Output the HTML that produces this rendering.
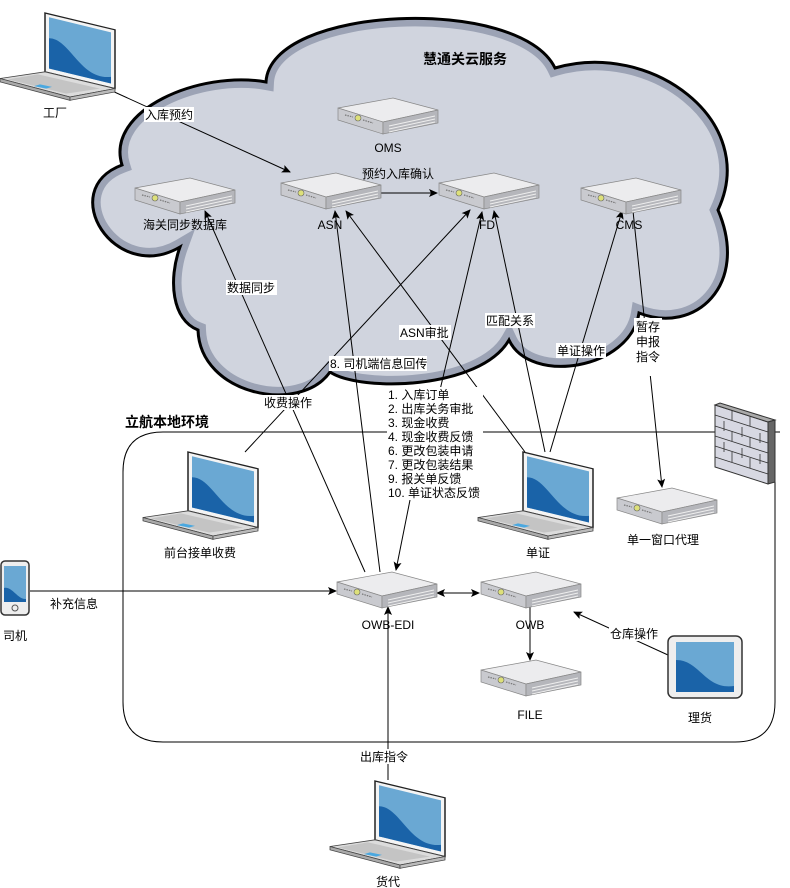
<!DOCTYPE html>
<html><head><meta charset="utf-8"><style>
html,body{margin:0;padding:0;background:#fff}
svg{display:block}
text{font-family:"Liberation Sans","Noto Sans CJK SC",sans-serif;font-size:12px;fill:#000}
.l{stroke:#000;stroke-width:1;fill:none}
.bg{fill:#fff}
</style></head><body>
<svg width="790" height="888" viewBox="0 0 790 888" xmlns="http://www.w3.org/2000/svg">
<defs>
<marker id="a" markerWidth="10" markerHeight="10" refX="8" refY="4" orient="auto" markerUnits="userSpaceOnUse"><path d="M0,0 L9,4 L0,8 L2,4 Z" fill="#000"/></marker>
<marker id="s" markerWidth="10" markerHeight="10" refX="1" refY="4" orient="auto" markerUnits="userSpaceOnUse"><path d="M9,0 L0,4 L9,8 L7,4 Z" fill="#000"/></marker>
<clipPath id="cc"><path id="cp" d="M180,247 C115,285 55,190 122,165 C105,110 200,70 266,82 C270,5 520,-5 555,68 C650,40 760,120 718,210 C750,285 695,335 639,313 C630,370 530,385 509,340 C480,390 360,392 330,372 C300,415 200,395 198,330 C172,320 168,280 180,247 Z"/></clipPath>
<g id="srv">
<polygon points="1,10 56,0 101,12 46,24" fill="#ececee" stroke="#888" stroke-width="0.7"/>
<polygon points="1,10 46,24 46,36 1,22" fill="#c9cacf" stroke="#888" stroke-width="0.7"/>
<polygon points="46,24 101,12 101,25 46,36" fill="#b5b6bb" stroke="#888" stroke-width="0.7"/>
<circle cx="21" cy="20" r="3" fill="#dde07a" stroke="#666" stroke-width="0.6"/>
<line x1="8" y1="17" x2="16" y2="19" stroke="#777" stroke-width="1.2" stroke-dasharray="1.5,1"/>
<line x1="26" y1="22" x2="36" y2="25" stroke="#777" stroke-width="1.2" stroke-dasharray="1.5,1"/>
<line x1="52" y1="28" x2="98" y2="18" stroke="#eee" stroke-width="1"/>
<line x1="52" y1="31" x2="98" y2="21" stroke="#eee" stroke-width="1"/>
<line x1="52" y1="34" x2="98" y2="24" stroke="#eee" stroke-width="1"/>
</g>
<g id="lap">
<g transform="scale(1,0.84)">
<polygon points="45,0 115,20 115,90 45,70" fill="#f4f4f4" stroke="#222" stroke-width="1.5"/>
<polygon points="49,5 111,23 111,84 49,66" fill="#6aa8d3"/>
<path d="M49,30 C70,30 80,80 111,76 L111,84 L49,66 Z" fill="#1a63a8"/>
<polygon points="45,70 115,90 70,100 0,78" fill="#dcdcdc" stroke="#444" stroke-width="1"/>
<polygon points="0,78 70,100 70,104 0,82" fill="#aaa" stroke="#444" stroke-width="0.8"/>
<polygon points="70,100 115,90 115,94 70,104" fill="#bbb" stroke="#444" stroke-width="0.8"/>
<polygon points="38,73 100,90 66,96 8,79" fill="#c4c4c4"/>
<polygon points="40,85 52,88 46,90 34,87" fill="#4aa8e0"/>
</g>
</g>
</defs>

<!-- cloud -->
<use href="#cp" fill="#d0d4de"/>
<g clip-path="url(#cc)"><use href="#cp" fill="none" stroke="#9ca3b5" stroke-width="16"/></g>
<use href="#cp" fill="none" stroke="#000" stroke-width="3"/>
<text x="465" y="64" text-anchor="middle" style="font-size:14px;font-weight:bold">慧通关云服务</text>

<!-- local box -->
<path d="M780,432 L163,432 Q123,432 123,472 L123,702 Q123,742 163,742 L735,742 Q775,742 775,702 L775,480" class="l"/>
<text x="125" y="427" style="font-size:14px;font-weight:bold">立航本地环境</text>

<!-- firewall -->
<g stroke="#333" stroke-width="1">
<polygon points="715,405 768,422 768,484 715,467" fill="#d7d8e2"/>
<polygon points="715,405 720,403 775,420 768,422" fill="#aaa"/>
<polygon points="768,422 775,420 775,482 768,484" fill="#666"/>
<path d="M715,415 L768,432 M715,426 L768,443 M715,436 L768,453 M715,446 L768,463 M715,457 L768,474 M732,410 L732,420 M750,416 L750,426 M724,421 L724,431 M742,427 L742,437 M760,433 L760,443 M732,431 L732,441 M750,437 L750,447 M724,442 L724,452 M742,448 L742,458 M760,454 L760,464 M732,452 L732,462 M750,458 L750,468" fill="none" stroke-width="0.8"/>
</g>

<!-- connectors -->
<line x1="110" y1="90" x2="290" y2="172" class="l" marker-end="url(#a)"/>
<line x1="381" y1="193" x2="437" y2="193" class="l" stroke="#333" stroke-width="1.5" marker-end="url(#a)"/>
<line x1="245" y1="452" x2="470" y2="210" class="l" marker-end="url(#a)"/>
<line x1="365" y1="572" x2="205" y2="211" class="l" marker-end="url(#a)"/>
<line x1="380" y1="572" x2="335" y2="211" class="l" marker-end="url(#a)"/>
<line x1="525" y1="452" x2="346" y2="211" class="l" marker-end="url(#a)"/>
<line x1="440" y1="390" x2="482" y2="212" class="l" marker-end="url(#a)"/>
<line x1="410" y1="500" x2="396" y2="570" class="l" marker-end="url(#a)"/>
<line x1="545" y1="452" x2="494" y2="211" class="l" marker-end="url(#a)"/>
<line x1="550" y1="452" x2="622" y2="211" class="l" marker-end="url(#a)"/>
<line x1="633" y1="211" x2="662" y2="487" class="l" marker-end="url(#a)"/>
<line x1="30" y1="591" x2="336" y2="591" class="l" stroke="#555" stroke-width="1.5" marker-end="url(#a)"/>
<line x1="437" y1="593" x2="479" y2="593" class="l" marker-end="url(#a)" marker-start="url(#s)"/>
<line x1="530" y1="606" x2="530" y2="660" class="l" stroke="#333" stroke-width="1.5" marker-end="url(#a)"/>
<line x1="668" y1="655" x2="574" y2="612" class="l" marker-end="url(#a)"/>
<line x1="388" y1="780" x2="388" y2="607" class="l" stroke="#555" stroke-width="1.5" marker-end="url(#a)"/>

<!-- servers -->
<use href="#srv" x="337" y="98"/>
<use href="#srv" x="134" y="178"/>
<use href="#srv" x="280" y="173"/>
<use href="#srv" x="438" y="173"/>
<use href="#srv" x="580" y="178"/>
<use href="#srv" x="616" y="488"/>
<use href="#srv" x="336" y="572"/>
<use href="#srv" x="480" y="572"/>
<use href="#srv" x="480" y="660"/>

<!-- laptops -->
<use href="#lap" x="0" y="13"/>
<use href="#lap" x="143" y="452"/>
<use href="#lap" x="478" y="452"/>
<use href="#lap" x="330" y="781"/>

<!-- phone -->
<g>
<rect x="1" y="561" width="28" height="54" rx="4" fill="#eee" stroke="#333" stroke-width="1.5"/>
<rect x="4" y="566" width="22" height="36" fill="#6aa8d3"/>
<path d="M4,588 C12,586 18,600 26,599 L26,602 L4,602Z" fill="#1a63a8"/>
<circle cx="15" cy="608" r="3" fill="none" stroke="#555"/>
</g>
<!-- tablet -->
<g>
<rect x="668" y="636" width="74" height="62" rx="6" fill="#eee" stroke="#333" stroke-width="1.5"/>
<rect x="676" y="642" width="58" height="50" fill="#6aa8d3"/>
<path d="M676,660 C700,660 705,690 734,686 L734,692 L676,692Z" fill="#1a63a8"/>
</g>

<!-- labels -->
<g text-anchor="middle">
<text x="55" y="117">工厂</text>
<text x="388" y="152">OMS</text>
<text x="185" y="229">海关同步数据库</text>
<text x="330" y="229">ASN</text>
<text x="487" y="229">FD</text>
<text x="629" y="229">CMS</text>
<text x="200" y="557">前台接单收费</text>
<text x="538" y="557">单证</text>
<text x="663" y="544">单一窗口代理</text>
<text x="388" y="629">OWB-EDI</text>
<text x="530" y="629">OWB</text>
<text x="530" y="719">FILE</text>
<text x="15" y="640">司机</text>
<text x="700" y="722">理货</text>
<text x="388" y="886">货代</text>
</g>

<g>
<rect x="144" y="107" width="50" height="15" class="bg"/><text x="145" y="119">入库预约</text>
<text x="362" y="178">预约入库确认</text>
<rect x="226" y="280" width="51" height="15" class="bg"/><text x="227" y="292">数据同步</text>
<rect x="399" y="325" width="52" height="15" class="bg"/><text x="400" y="337">ASN审批</text>
<rect x="485" y="313" width="50" height="15" class="bg"/><text x="486" y="325">匹配关系</text>
<rect x="556" y="343" width="50" height="15" class="bg"/><text x="557" y="355">单证操作</text>
<rect x="634" y="318" width="28" height="58" class="bg"/>
<text x="648" y="331" text-anchor="middle">暂存</text>
<text x="648" y="346" text-anchor="middle">申报</text>
<text x="648" y="361" text-anchor="middle">指令</text>
<rect x="329" y="356" width="98" height="15" class="bg"/><text x="330" y="368">8. 司机端信息回传</text>
<rect x="263" y="395" width="52" height="15" class="bg"/><text x="264" y="407">收费操作</text>
<rect x="387" y="387" width="96" height="113" class="bg"/>
<text x="388" y="399">1. 入库订单</text>
<text x="388" y="413">2. 出库关务审批</text>
<text x="388" y="427">3. 现金收费</text>
<text x="388" y="441">4. 现金收费反馈</text>
<text x="388" y="455">6. 更改包装申请</text>
<text x="388" y="469">7. 更改包装结果</text>
<text x="388" y="483">9. 报关单反馈</text>
<text x="388" y="497">10. 单证状态反馈</text>
<text x="50" y="608">补充信息</text>
<rect x="609" y="626" width="50" height="15" class="bg"/><text x="610" y="638">仓库操作</text>
<rect x="359" y="749" width="52" height="15" class="bg"/><text x="360" y="761">出库指令</text>
</g>
</svg>
</body></html>
